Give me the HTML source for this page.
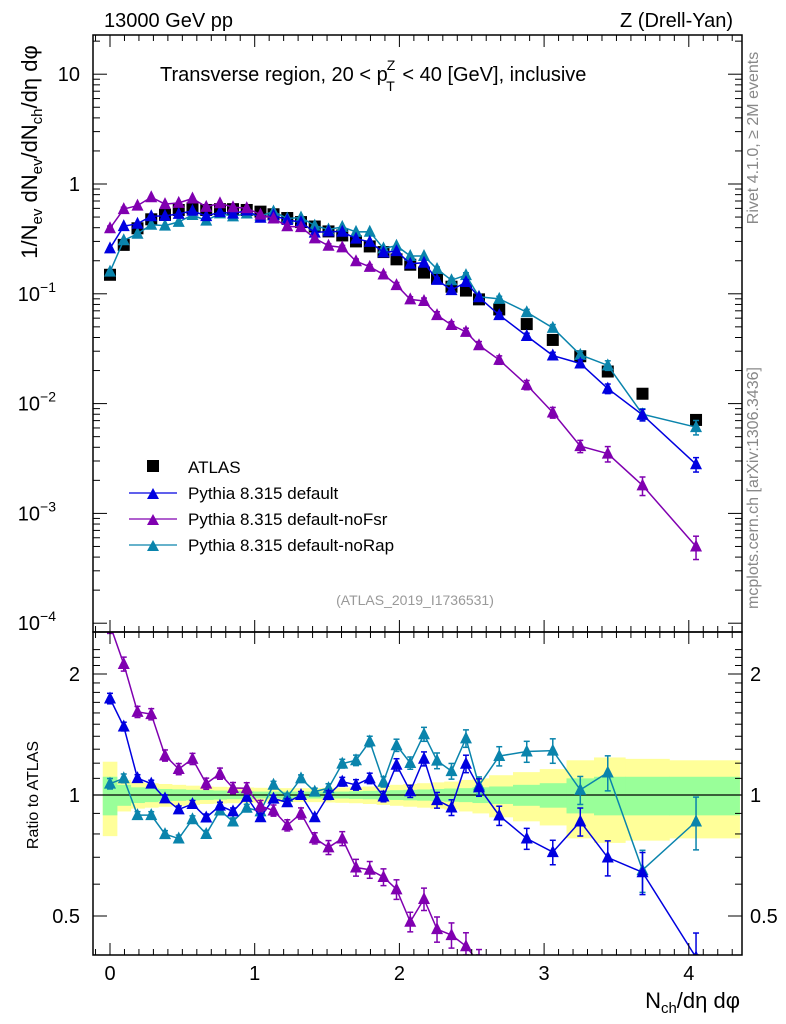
<!DOCTYPE html>
<html><head><meta charset="utf-8"><style>
html,body{margin:0;padding:0;background:#fff;width:786px;height:1024px;overflow:hidden;}
svg{display:block;font-family:"Liberation Sans",sans-serif;}
</style></head><body>
<svg id="c" width="786" height="1024" viewBox="0 0 786 1024" xmlns="http://www.w3.org/2000/svg">
<defs>
<clipPath id="cm"><rect x="93" y="35" width="649" height="597"/></clipPath>
<clipPath id="cr"><rect x="93" y="632" width="649" height="323"/></clipPath>
</defs>
<rect x="0" y="0" width="786" height="1024" fill="#fff"/>
<g id="bands" clip-path="url(#cr)"></g>
<line x1="93" y1="795" x2="742" y2="795" stroke="#000" stroke-width="1.3"/>
<g id="mainMarks" clip-path="url(#cm)"></g>
<g id="ratioMarks" clip-path="url(#cr)"></g>
<g id="axes"></g>
<text x="104" y="27" font-size="20">13000 GeV pp</text>
<text x="733" y="27" font-size="20" text-anchor="end">Z (Drell-Yan)</text>
<text x="160" y="81" font-size="20">Transverse region, 20 &lt; p<tspan font-size="14" dx="-1" dy="-11">Z</tspan><tspan font-size="14" dx="-9" dy="21">T</tspan><tspan dy="-10" dx="2"> &lt; 40 [GeV], inclusive</tspan></text>
<text x="415" y="605" font-size="14" fill="#999" text-anchor="middle">(ATLAS_2019_I1736531)</text>
<text transform="translate(758,138) rotate(-90)" font-size="16" fill="#888" text-anchor="middle">Rivet 4.1.0, ≥ 2M events</text>
<text transform="translate(758,488) rotate(-90)" font-size="16" fill="#888" text-anchor="middle">mcplots.cern.ch [arXiv:1306.3436]</text>
<text transform="translate(37,152) rotate(-90)" font-size="22" text-anchor="middle">1/N<tspan font-size="15" dy="5">ev</tspan><tspan dy="-5"> dN</tspan><tspan font-size="15" dy="5">ev</tspan><tspan dy="-5">/dN</tspan><tspan font-size="15" dy="5">ch</tspan><tspan dy="-5">/dη dφ</tspan></text>
<text transform="translate(38,795) rotate(-90)" font-size="16" text-anchor="middle">Ratio to ATLAS</text>
<text x="740" y="1008" font-size="22" text-anchor="end">N<tspan font-size="15" dy="5">ch</tspan><tspan dy="-5">/dη dφ</tspan></text>
<g>
<rect x="147" y="460" width="12" height="12" fill="#000"/>
<text x="188" y="473" font-size="17">ATLAS</text>
<line x1="129" y1="493" x2="177" y2="493" stroke="#0000e0" stroke-width="1.3"/>
<polygon points="147,499 159,499 153,488" fill="#0000e0"/>
<text x="188" y="499" font-size="17">Pythia 8.315 default</text>
<line x1="129" y1="519" x2="177" y2="519" stroke="#8000b0" stroke-width="1.3"/>
<polygon points="147,525 159,525 153,514" fill="#8000b0"/>
<text x="188" y="525" font-size="17">Pythia 8.315 default-noFsr</text>
<line x1="129" y1="545" x2="177" y2="545" stroke="#0a84ac" stroke-width="1.3"/>
<polygon points="147,551 159,551 153,540" fill="#0a84ac"/>
<text x="188" y="551" font-size="17">Pythia 8.315 default-noRap</text>
</g>
</svg>
<script>
const xVals=[0,0.095,0.19,0.285,0.38,0.475,0.57,0.665,0.76,0.85,0.945,1.04,1.13,1.225,1.32,1.415,1.51,1.605,1.70,1.795,1.89,1.98,2.075,2.17,2.26,2.36,2.46,2.55,2.69,2.88,3.06,3.25,3.44,3.68,4.05];
const atlasVals=[0.149,0.279,0.395,0.477,0.523,0.58,0.60,0.58,0.59,0.59,0.58,0.56,0.53,0.49,0.45,0.41,0.37,0.34,0.30,0.27,0.24,0.206,0.184,0.156,0.138,0.116,0.107,0.089,0.072,0.053,0.038,0.027,0.0196,0.0123,0.0071];
const defaultVals=[0.259,0.413,0.435,0.509,0.513,0.534,0.57,0.51,0.555,0.537,0.574,0.493,0.519,0.470,0.45,0.361,0.37,0.367,0.318,0.297,0.238,0.245,0.188,0.192,0.134,0.108,0.128,0.093,0.064,0.0413,0.0274,0.0232,0.0137,0.0079,0.0028];
const noFsrVals=[0.395,0.591,0.636,0.758,0.656,0.673,0.738,0.619,0.667,0.614,0.603,0.526,0.485,0.412,0.405,0.320,0.274,0.265,0.198,0.176,0.15,0.12,0.089,0.086,0.064,0.052,0.045,0.034,0.025,0.0148,0.0083,0.0041,0.0035,0.0018,0.0005];
const noRapVals=[0.159,0.307,0.352,0.425,0.418,0.452,0.522,0.464,0.540,0.507,0.539,0.510,0.562,0.485,0.495,0.418,0.385,0.407,0.366,0.367,0.259,0.274,0.221,0.221,0.168,0.133,0.148,0.094,0.090,0.068,0.049,0.0278,0.0223,0.0080,0.0061];
const mcRelErr=[0.03,0.025,0.02,0.02,0.02,0.02,0.02,0.02,0.02,0.02,0.02,0.02,0.02,0.02,0.02,0.02,0.025,0.025,0.03,0.03,0.03,0.035,0.035,0.04,0.045,0.045,0.05,0.05,0.055,0.06,0.07,0.08,0.1,0.12,0.15];
const greenRel=[0.11,0.06,0.045,0.04,0.035,0.033,0.03,0.028,0.026,0.024,0.022,0.02,0.02,0.02,0.02,0.02,0.02,0.02,0.022,0.024,0.026,0.028,0.03,0.032,0.035,0.038,0.04,0.045,0.05,0.06,0.07,0.1,0.11,0.11,0.11];
const yellowRel=[0.21,0.09,0.075,0.07,0.065,0.06,0.055,0.05,0.048,0.046,0.044,0.042,0.04,0.04,0.04,0.04,0.042,0.044,0.046,0.05,0.055,0.06,0.065,0.07,0.075,0.08,0.09,0.1,0.12,0.14,0.16,0.22,0.24,0.23,0.22];
const mainTickVals=[10,1,0.1,0.01,0.001,0.0001];
const mainTickExp=[1,0,-1,-2,-3,-4];
const ratioTickVals=[2,1,0.5];
const xTickVals=[0,1,2,3,4];

const NS="http://www.w3.org/2000/svg";
const L=93,R=742,T=35,M=632,B=955;
function X(v){return 110+144.7*v;}
function YM(v){return 184-109.8*Math.log10(v);}
function YR(r){return 795-121*Math.log2(r);}
function mk(tag,attrs,parent){const e=document.createElementNS(NS,tag);for(const k in attrs)e.setAttribute(k,attrs[k]);parent.appendChild(e);return e;}
function clampY(y,lo,hi){return Math.max(lo,Math.min(hi,y));}

// clip a polyline to a y-range; returns array of point-lists
function clipPoly(pts,lo,hi){
  const out=[];let cur=[];
  function inside(p){return p[1]>=lo&&p[1]<=hi;}
  function cross(a,b,yb){const t=(yb-a[1])/(b[1]-a[1]);return [a[0]+t*(b[0]-a[0]),yb];}
  for(let i=0;i<pts.length;i++){
    const p=pts[i];
    if(i===0){if(inside(p))cur.push(p);continue;}
    const a=pts[i-1];
    const ia=inside(a),ip=inside(p);
    if(ia&&ip){cur.push(p);}
    else if(ia&&!ip){cur.push(cross(a,p,p[1]<lo?lo:hi));out.push(cur);cur=[];}
    else if(!ia&&ip){cur=[cross(a,p,a[1]<lo?lo:hi),p];}
    else{
      if((a[1]<lo&&p[1]>hi)||(a[1]>hi&&p[1]<lo)){
        const e1=cross(a,p,a[1]<lo?lo:hi),e2=cross(a,p,p[1]<lo?lo:hi);out.push([e1,e2]);
      }
    }
  }
  if(cur.length)out.push(cur);
  return out;
}

const bands=document.getElementById('bands');
function edges(i){const l=i===0?-0.05:(xVals[i-1]+xVals[i])/2;const r=i===xVals.length-1?4.35:(xVals[i]+xVals[i+1])/2;return [l,r];}
for(let i=0;i<xVals.length;i++){
  const [l,r]=edges(i);
  const y=mk('rect',{x:X(l),y:YR(1+yellowRel[i]),width:X(r)-X(l)+0.5,height:YR(1-yellowRel[i])-YR(1+yellowRel[i]),fill:'#ffff99'},bands);
  
  
}
for(let i=0;i<xVals.length;i++){
  const [l,r]=edges(i);
  const g=mk('rect',{x:X(l),y:YR(1+greenRel[i]),width:X(r)-X(l)+0.5,height:YR(1-greenRel[i])-YR(1+greenRel[i]),fill:'#99ff99'},bands);
  
  
}

const mainG=document.getElementById('mainMarks');
const ratioG=document.getElementById('ratioMarks');
const series=[
 {vals:noRapVals,col:'#0a84ac',name:'norap',em:1},
 {vals:defaultVals,col:'#0000e0',name:'default',em:1},
 {vals:noFsrVals,col:'#8000b0',name:'nofsr',em:1.6}
];
function tri(g,x,y,col,name){
  const p=mk('polygon',{points:`${x-6},${y+5} ${x+6},${y+5} ${x},${y-7}`,fill:col},g);
  
  
}
function errbar(g,x,y1,y2,col){
  mk('line',{x1:x,y1:y1,x2:x,y2:y2,stroke:col,'stroke-width':1.5},g);
  mk('line',{x1:x-3,y1:y1,x2:x+3,y2:y1,stroke:col,'stroke-width':1.5},g);
  mk('line',{x1:x-3,y1:y2,x2:x+3,y2:y2,stroke:col,'stroke-width':1.5},g);
}
for(let i=0;i<xVals.length;i++){
  const s=mk('rect',{x:X(xVals[i])-6,y:YM(atlasVals[i])-6,width:12,height:12,fill:'#000'},mainG);
  
  
}
for(const s of series){
  const ptsM=xVals.map((x,i)=>`${X(x)},${YM(s.vals[i])}`).join(' ');
  const lm=mk('polyline',{points:ptsM,fill:'none',stroke:s.col,'stroke-width':1.5},mainG);
  
  
  const rp=xVals.map((x,i)=>[X(x),YR(s.vals[i]/atlasVals[i])]);
  for(const seg of clipPoly(rp,M,B)){
    const lr=mk('polyline',{points:seg.map(p=>p[0]+','+p[1]).join(' '),fill:'none',stroke:s.col,'stroke-width':1.5},ratioG);
    
    
  }
  for(let i=0;i<xVals.length;i++){
    const e=mcRelErr[i]*s.em;
    const v=s.vals[i], r=v/atlasVals[i], x=X(xVals[i]);
    if(e>0.04) errbar(mainG,x,YM(v*(1+e)),YM(v*(1-e)),s.col);
    tri(mainG,x,YM(v),s.col,s.name+'-point');
    const yr=YR(r);
    if(yr>=M-8&&yr<=B+8){
      errbar(ratioG,x,clampY(YR(r*(1+e)),M,B),clampY(YR(r*(1-e)),M,B),s.col);
      tri(ratioG,x,yr,s.col,s.name+'-ratio-point');
    }
  }
}

const ax=document.getElementById('axes');
mk('rect',{x:L,y:T,width:R-L,height:M-T,fill:'none',stroke:'#000','stroke-width':1.5},ax);
mk('rect',{x:L,y:M,width:R-L,height:B-M,fill:'none',stroke:'#000','stroke-width':1.5},ax);
for(let k=-1;k<=43;k++){
  const v=k/10;const x=X(v);if(x<L||x>R)continue;
  const major=k%10===0;const len=major?12:6;
  for(const [yb,dir] of [[M,-1],[T,1],[B,-1],[M,1]]){
    mk('line',{x1:x,y1:yb,x2:x,y2:yb+dir*len,stroke:'#000','stroke-width':1},ax);
  }
}
xTickVals.forEach(v=>{
  const t=mk('text',{x:X(v),y:980,'font-size':20,'text-anchor':'middle'},ax);t.textContent=String(v);
  
  
});
for(let e=-4;e<=1;e++){
  for(let m=1;m<=9;m++){
    const v=m*Math.pow(10,e);const y=YM(v);if(y<T||y>M)continue;
    const len=m===1?14:7;
    mk('line',{x1:L,y1:y,x2:L+len,y2:y,stroke:'#000','stroke-width':1},ax);
    mk('line',{x1:R,y1:y,x2:R-len,y2:y,stroke:'#000','stroke-width':1},ax);
  }
}
mainTickVals.forEach((v,i)=>{
  const e=mainTickExp[i];const y=YM(v)+7;
  const t=mk('text',{x:e<0?56:80,y:y,'font-size':20,'text-anchor':'end'},ax);
  if(e===1)t.textContent='10';else if(e===0)t.textContent='1';
  else{t.textContent='10';const s=mk('tspan',{'font-size':14,dy:-9},t);s.textContent='−'+(-e);}
  
  
});
for(let r=0.4;r<=2.31;r+=0.1){
  const y=YR(r);if(y<M||y>B)continue;
  const rr=Math.round(r*10)/10;
  const major=(rr===0.5||rr===1||rr===2);
  const len=major?14:7;
  mk('line',{x1:L,y1:y,x2:L+len,y2:y,stroke:'#000','stroke-width':1},ax);
  mk('line',{x1:R,y1:y,x2:R-len,y2:y,stroke:'#000','stroke-width':1},ax);
}
ratioTickVals.forEach(v=>{
  const y=YR(v)+7;
  const t1=mk('text',{x:80,y:y,'font-size':20,'text-anchor':'end'},ax);t1.textContent=String(v);
  
  
  const t2=mk('text',{x:750,y:y,'font-size':20,'text-anchor':'start'},ax);t2.textContent=String(v);
  
  
});
</script>
</body></html>
